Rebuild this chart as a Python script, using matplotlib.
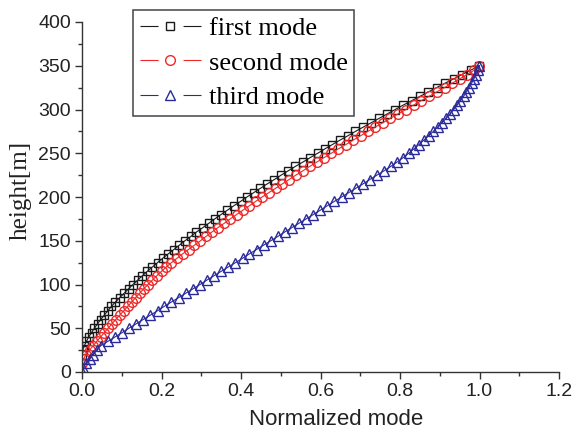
import numpy as np
import matplotlib
matplotlib.use('Agg')
import matplotlib.pyplot as plt
from matplotlib.lines import Line2D
from matplotlib.legend_handler import HandlerTuple
from matplotlib.ticker import MultipleLocator, FormatStrFormatter


# storey heights [m], every 5 m from ground to top
heights = [0, 5, 10, 15, 20, 25, 30, 35, 40, 45, 50, 55, 60, 65, 70, 75, 80,
           85, 90, 95, 100, 105, 110, 115, 120, 125, 130, 135, 140, 145, 150,
           155, 160, 165, 170, 175, 180, 185, 190, 195, 200, 205, 210, 215,
           220, 225, 230, 235, 240, 245, 250, 255, 260, 265, 270, 275, 280,
           285, 290, 295, 300, 305, 310, 315, 320, 325, 330, 335, 340, 345, 350]

# normalized mode shapes
mode1 = [0.000, 0.002, 0.006, 0.011, 0.017, 0.024, 0.031, 0.039, 0.047, 0.056,
         0.065, 0.074, 0.084, 0.095, 0.106, 0.117, 0.128, 0.140, 0.152, 0.164,
         0.177, 0.190, 0.203, 0.217, 0.231, 0.245, 0.259, 0.274, 0.288, 0.304,
         0.319, 0.334, 0.350, 0.366, 0.382, 0.399, 0.415, 0.432, 0.449, 0.466,
         0.484, 0.501, 0.519, 0.537, 0.556, 0.574, 0.593, 0.611, 0.630, 0.649,
         0.669, 0.688, 0.708, 0.728, 0.748, 0.768, 0.788, 0.808, 0.829, 0.850,
         0.871, 0.892, 0.913, 0.935, 0.956, 0.978, 1.000]
mode2 = [0.000, 0.004, 0.010, 0.019, 0.028, 0.037, 0.047, 0.056, 0.066, 0.075,
         0.085, 0.095, 0.105, 0.115, 0.125, 0.135, 0.145, 0.155, 0.166, 0.177,
         0.188, 0.200, 0.212, 0.225, 0.239, 0.253, 0.268, 0.283, 0.298, 0.312,
         0.327, 0.342, 0.358, 0.373, 0.389, 0.405, 0.421, 0.437, 0.453, 0.470,
         0.487, 0.504, 0.521, 0.538, 0.556, 0.573, 0.591, 0.609, 0.627, 0.645,
         0.664, 0.682, 0.701, 0.719, 0.738, 0.757, 0.776, 0.795, 0.815, 0.834,
         0.853, 0.873, 0.892, 0.912, 0.931, 0.950, 0.969, 0.987, 1.000]
mode3 = [0.000, 0.003, 0.010, 0.019, 0.028, 0.037, 0.047, 0.065, 0.083, 0.101,
         0.118, 0.136, 0.154, 0.172, 0.190, 0.207, 0.225, 0.243, 0.261, 0.279,
         0.297, 0.314, 0.332, 0.350, 0.368, 0.386, 0.404, 0.421, 0.439, 0.457,
         0.475, 0.493, 0.510, 0.528, 0.546, 0.564, 0.582, 0.600, 0.617, 0.635,
         0.653, 0.671, 0.689, 0.707, 0.724, 0.742, 0.760, 0.777, 0.793, 0.808,
         0.822, 0.835, 0.848, 0.860, 0.872, 0.884, 0.895, 0.906, 0.916, 0.926,
         0.935, 0.944, 0.952, 0.960, 0.967, 0.974, 0.980, 0.986, 0.991, 0.996,
         1.000]

h1 = heights[4:]
h2 = heights[2:]
h3 = heights

labels = ['first mode', 'second mode', 'third mode']
colors = ['#1a1a1a', '#f02828', '#2a2a9a']
markers = ['s', 'o', '^']
msizes = [6.0, 7.0, 7.5]
LW = 0.8
MEW = 1.0

fig = plt.figure(figsize=(5.74, 4.32), dpi=100)
ax = fig.add_axes([82/574, 1 - 372/432, (559 - 82)/574, (372 - 22)/432])

for xs, hs, c, m, ms in zip([mode1, mode2, mode3], [h1, h2, h3], colors, markers, msizes):
    ax.plot(xs, hs, color=c, lw=LW, marker=m, ms=ms, mfc='none', mec=c, mew=MEW)

ax.set_xlim(0, 1.2)
ax.set_ylim(0, 400)
ax.xaxis.set_major_locator(MultipleLocator(0.2))
ax.xaxis.set_minor_locator(MultipleLocator(0.1))
ax.yaxis.set_major_locator(MultipleLocator(50))
ax.yaxis.set_minor_locator(MultipleLocator(25))
ax.xaxis.set_major_formatter(FormatStrFormatter('%.1f'))

for s in ['top', 'right']:
    ax.spines[s].set_visible(False)
for s in ['left', 'bottom']:
    ax.spines[s].set_linewidth(1.0)
    ax.spines[s].set_color('#333333')

ax.tick_params(which='major', direction='out', length=5, width=1.0, color='#333333',
               labelsize=14, labelcolor='#222222', pad=3)
ax.tick_params(which='minor', direction='out', length=3, width=1.0, color='#333333')
for lab in ax.get_xticklabels() + ax.get_yticklabels():
    lab.set_family('Liberation Sans')

ax.set_xlabel('Normalized mode', fontsize=16, family='Liberation Sans', color='#222222')
ax.set_ylabel('height[m]', fontsize=18, family='Liberation Serif', color='#222222')
ax.xaxis.label.set_va('center')
ax.yaxis.label.set_va('center')
ax.xaxis.set_label_coords(0.533, -0.136)
ax.yaxis.set_label_coords(-0.128, 0.52)

# legend entries: short line pieces on both sides of the marker
FS = 19
seg, gap = 13.0, 18.0
proxies = []
for c, m, ms in zip(colors, markers, msizes):
    ln = Line2D([0], [0], color=c, lw=LW, ls=(0, (seg/LW, gap/LW, seg/LW, gap/LW)))
    mk = Line2D([0], [0], ls='none', marker=m, ms=ms, mfc='none', mec=c, mew=MEW)
    proxies.append((ln, mk))
leg = ax.legend(proxies, labels, handler_map={tuple: HandlerTuple(ndivide=1)},
                loc='upper left', bbox_to_anchor=(133/574, 1 - 10/432),
                bbox_transform=fig.transFigure, borderaxespad=0, fancybox=False,
                edgecolor='#444444', framealpha=1, handlelength=(2*seg + gap)/FS,
                handletextpad=0.3, borderpad=0.25, labelspacing=0.42,
                prop={'family': 'Liberation Serif', 'size': FS})
leg.get_frame().set_linewidth(1.1)

fig.savefig('out.png', dpi=100)
